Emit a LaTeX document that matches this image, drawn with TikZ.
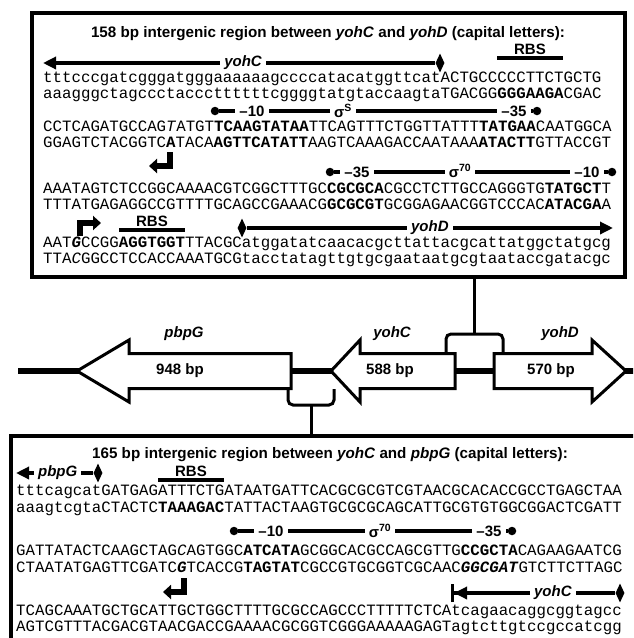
\documentclass[tikz,border=0pt]{standalone}
\usepackage{fontspec}
\setmainfont{Liberation Sans}
\setmonofont{Liberation Mono}
\usetikzlibrary{positioning, arrows.meta, shapes.geometric}

\begin{document}
\begin{tikzpicture}[x=1pt, y=-1pt,
    seq/.style={anchor=base west, inner sep=0pt, font=\fontsize{15.77}{16}\selectfont\ttfamily},
    ttl/.style={inner sep=0pt, font=\fontsize{15.2}{17}\selectfont\bfseries},
    annot/.style={fill=white, inner xsep=4pt, inner ysep=0pt, font=\fontsize{15}{16}\selectfont\bfseries},
    gname/.style={annot, font=\fontsize{15}{16}\selectfont\bfseries\itshape},
    tipdia/.style={diamond, fill=black, inner sep=0pt, minimum width=9pt, minimum height=19pt},
    tipdot/.style={circle, fill=black, inner sep=0pt, minimum size=8.5pt},
    rbsbar/.style={fill=black, inner sep=0pt, minimum width=66pt, minimum height=3.5pt},
    garrow/.style={line width=3.5pt, -{Triangle[length=13pt, width=12pt]}},
    sigline/.style={line width=3.5pt},
    tssarrow/.style={line width=6pt, -{Triangle[length=8pt, width=14pt]}},
    seqbox/.style={draw, line width=3.5pt, inner sep=0pt},
    backbone/.style={line width=6pt},
    gene/.style={draw, line width=3pt, fill=white, line join=miter},
    genelab/.style={inner sep=0pt, font=\fontsize{15}{16}\selectfont\bfseries},
    genebrk/.style={line width=3pt, rounded corners=5pt},
    conn/.style={line width=3pt},
]
\path[fill=white, use as bounding box] (0,0) rectangle (633,638);
\clip (0,0) rectangle (633,638);

% 158 bp region, yohC - yohD
\node[seqbox, minimum width=593pt, minimum height=264pt] (topbox) at (328.5,145) {};
\node[ttl] (ttlA) at (328,34) {158 bp intergenic region between \textit{yohC} and \textit{yohD} (capital letters):};

\node[rbsbar] (rbsA) at (530,58) {};
\node[annot, above=1pt of rbsA] (rbsAl) {RBS};
\node[tipdia] (dC) at (440,63) {};
\coordinate (tC) at (43,63);
\draw[garrow] (dC) -- node[gname, pos=0.49] (yohCa) {yohC} (tC);

\node[seq] (sq1) at (43,82.5) {tttcccgatcgggatgggaaaaaagccccatacatggttcatACTGCCCCCTTCTGCTG};
\node[seq] (sq2) at (43,98.5) {aaagggctagccctacccttttttcggggtatgtaccaagtaTGACGG\textbf{GGGAAGA}CGAC};

\node[tipdot] (sA1) at (215,111) {};
\node[tipdot] (sA2) at (537,111) {};
\draw[sigline] (sA1) -- (sA2);
\node[annot] (m10a) at (252,111) {–10};
\node[annot] (sigS) at (343,111) {σ\textsuperscript{S}};
\node[annot] (m35a) at (514,111) {–35};

\node[seq] (sq3) at (43,131.5) {CCTCAGATGCCAG\textit{T}ATGT\textbf{TCAAGTATAA}TTCAGTTTCTGGTTATTT\textbf{TATGAA}CAATGGCA};
\node[seq] (sq4) at (43,147.5) {GGAGTCTACGGTC\textbf{A}TACA\textbf{AGTTCATATT}AAGTCAAAGACCAATAAA\textbf{ATACTT}GTTACCGT};

\coordinate (tss1) at (170,152);
\coordinate (tss1e) at (149,166);
\draw[tssarrow] (tss1) |- (tss1e);

\node[tipdot] (sB1) at (330,172) {};
\node[tipdot] (sB2) at (612,172) {};
\draw[sigline] (sB1) -- (sB2);
\node[annot] (m35b) at (357,172) {–35};
\node[annot] (sig70a) at (460,171) {σ\textsuperscript{70}};
\node[annot] (m10b) at (587,172) {–10};

\node[seq] (sq5) at (43,193.5) {AAATAGTCTCCGGCAAAACGTCGGCTTTGC\textbf{CGCGCA}CGCCTCTTGCCAGGGTG\textbf{TATGCT}T};
\node[seq] (sq6) at (43,209.5) {TTTATGAGAGGCCGTTTTGCAGCCGAAACG\textbf{GCGCGT}GCGGAGAACGGTCCCAC\textbf{ATACGA}A};

\coordinate (tss2) at (80,236);
\coordinate (tss2e) at (101,223);
\draw[tssarrow] (tss2) |- (tss2e);
\node[rbsbar] (rbsB) at (152,230) {};
\node[annot, above=1pt of rbsB] (rbsBl) {RBS};
\node[tipdia] (dD) at (242,228) {};
\coordinate (tD) at (613,228);
\draw[garrow] (dD) -- node[gname, pos=0.5] (yohDa) {yohD} (tD);

\node[seq] (sq7) at (43,247.5) {AAT\textbf{\textit{G}}CCGG\textbf{AGGTGGT}TTACGCatggatatcaacacgcttattacgcattatggctatgcg};
\node[seq] (sq8) at (43,263.5) {TTA\textit{C}GGCCTCCACCAAATGCGtacctatagttgtgcgaataatgcgtaataccgatacgc};

% gene map
\coordinate (bbL) at (18,371);
\coordinate (bbR) at (640,371);
\draw[backbone] (bbL) -- (bbR);
\draw[gene] (77,371) -- (129,340) -- (129,353.5) -- (291,353.5) -- (291,388.5) -- (129,388.5) -- (129,402) -- cycle;
\draw[gene] (331,371) -- (360,340) -- (360,353.5) -- (455,353.5) -- (455,388.5) -- (360,388.5) -- (360,402) -- cycle;
\draw[gene] (626,371) -- (592,340) -- (592,353.5) -- (494,353.5) -- (494,388.5) -- (592,388.5) -- (592,402) -- cycle;
\node[genelab, font=\fontsize{15}{16}\selectfont\bfseries\itshape] (pbpG) at (184,334) {pbpG};
\node[genelab] (pbpGbp) at (180,371) {948 bp};
\node[genelab, font=\fontsize{15}{16}\selectfont\bfseries\itshape] (yohC) at (392,334) {yohC};
\node[genelab] (yohCbp) at (390,371) {588 bp};
\node[genelab, font=\fontsize{15}{16}\selectfont\bfseries\itshape] (yohD) at (560,334) {yohD};
\node[genelab] (yohDbp) at (551,371) {570 bp};

\draw[genebrk] (446,352) -- (446,334) -- (503,334) -- (503,352);
\coordinate (brU) at (474.5,334);
\draw[conn] (topbox.south -| brU) -- (brU);
\draw[genebrk] (288,389) -- (288,405) -- (334,405) -- (334,389);
\coordinate (brL) at (311,405);

% 165 bp region, yohC - pbpG
\node[seqbox, minimum width=640pt, minimum height=230pt, anchor=north west] (botbox) at (9,434) {};
\draw[conn] (brL) -- (botbox.north -| brL);
\node[ttl] (ttlB) at (330,455) {165 bp intergenic region between \textit{yohC} and \textit{pbpG} (capital letters):};

\node[tipdia] (dG) at (98,473) {};
\coordinate (tG) at (16,473);
\draw[garrow] (dG) -- node[gname, pos=0.46] (pbpGa) {pbpG} (tG);
\node[rbsbar] (rbsC) at (191,480) {};
\node[annot, above=1pt of rbsC] (rbsCl) {RBS};

\node[seq] (sr1) at (16,495.5) {tttcagcatGATGAGATTTCTGATAATGATTCACGCGCGTCGTAACGCACACCGCCTGAGCTAA};
\node[seq] (sr2) at (16,512.5) {aaagtcgtaCTACTC\textbf{TAAAGAC}TATTACTAAGTGCGCGCAGCATTGCGTGTGGCGGACTCGATT};

\node[tipdot] (sC1) at (234,531) {};
\node[tipdot] (sC2) at (512,531) {};
\draw[sigline] (sC1) -- (sC2);
\node[annot] (m10c) at (271,531) {–10};
\node[annot] (sig70b) at (380,531) {σ\textsuperscript{70}};
\node[annot] (m35c) at (489,531) {–35};

\node[seq] (sr3) at (16,555.5) {GATTATACTCAAGCTAG\textit{C}AGTGGC\textbf{ATCATA}GCGGCACGCCAGCGTTG\textbf{CCGCTA}CAGAAGAATCG};
\node[seq] (sr4) at (16,572.5) {CTAATATGAGTTCGATC\textbf{\textit{G}}TCACCG\textbf{TAGTAT}CGCCGTGCGGTCGCAAC\textbf{\textit{GGCGAT}}GTCTTCTTAGC};

\coordinate (tss3) at (184,578);
\coordinate (tss3e) at (163,592);
\draw[tssarrow] (tss3) |- (tss3e);
\node[tipdia] (dC2) at (620,593) {};
\coordinate (tC2) at (451,593);
\draw[line width=3.5pt, -{Triangle[length=13pt, width=12pt]Bar[width=18pt, line width=3pt]}] (dC2) -- node[gname, pos=0.38] (yohCb) {yohC} (tC2);

\node[seq] (sr5) at (16,615.5) {TCAGCAAATGCTGCATTGCTGGCTTTTGCGCCAGCCCTTTTTCTCAtcagaacaggcggtagcc};
\node[seq] (sr6) at (16,631.5) {AGTCGTTTACGACGTAACGACCGAAAACGCGGTCGGGAAAAAGAGTagtcttgtccgccatcgg};
\end{tikzpicture}
\end{document}
